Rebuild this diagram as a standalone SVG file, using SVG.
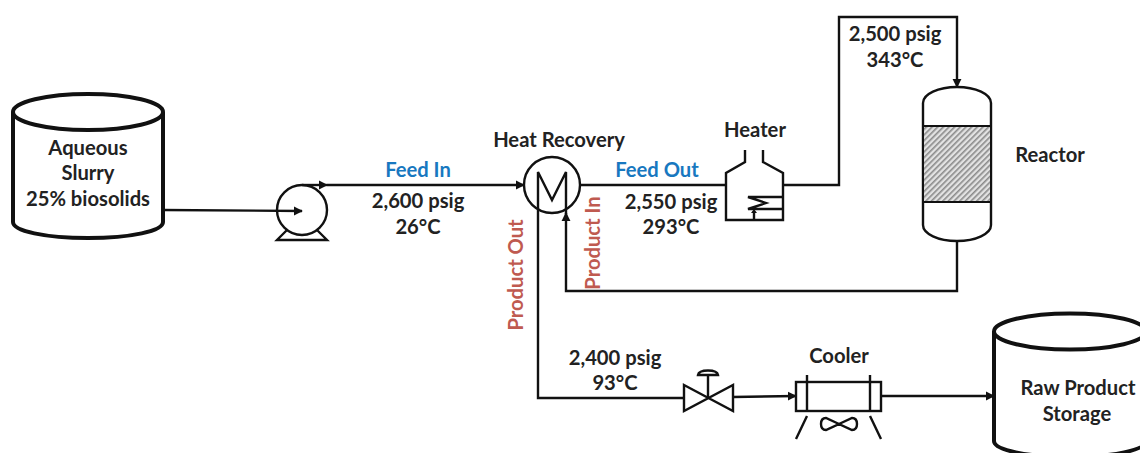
<svg xmlns="http://www.w3.org/2000/svg" width="1140" height="453" viewBox="0 0 1140 453">
<style>
.l{fill:none;stroke:#111;stroke-width:2.4;stroke-linejoin:miter}
.t{fill:none;stroke:#111;stroke-width:4}
text{font-family:"Lato","Liberation Sans",sans-serif;font-size:20.2px;font-weight:700;fill:#222;text-anchor:middle}
.b{fill:#1878c0}
.r{fill:#bf5a50}
</style>
<defs>
<marker id="a" viewBox="0 0 10 10" refX="9" refY="5" markerWidth="9" markerHeight="10" markerUnits="userSpaceOnUse" orient="auto"><path d="M0 0L10 5L0 10Z" fill="#111"/></marker>
<pattern id="h" width="4" height="4" patternUnits="userSpaceOnUse" patternTransform="rotate(-45)"><rect width="4" height="4" fill="#e2e2e2"/><rect width="4" height="1.6" fill="#8a8a8a"/></pattern>
</defs>
<rect width="1140" height="453" fill="#fff"/>
<g id="connectors">
<path class="l" d="M163 210L302 211" marker-end="url(#a)"/>
<path class="l" d="M302 185H327" marker-end="url(#a)"/>
<path class="l" d="M327 185H524" marker-end="url(#a)"/>
<path class="l" d="M580 185H726"/>
<path class="l" d="M783 185H839V17H957V87" marker-end="url(#a)"/>
<path class="l" d="M957 241V291H566V213" marker-end="url(#a)"/>
<path class="l" d="M538 212V398H684"/>
<path class="l" d="M733 397L796 396" marker-end="url(#a)"/>
<path class="l" d="M881 396H994" marker-end="url(#a)"/>
</g>
<g id="tank-slurry">
<path class="t" d="M13 112V222C13 231 45 238 88 238S163 231 163 222V112"/>
<ellipse class="t" cx="88" cy="112" rx="75" ry="18"/>
<text x="88" y="155">Aqueous</text>
<text x="88" y="180">Slurry</text>
<text x="88" y="206">25% biosolids</text>
</g>
<g id="pump">
<circle class="l" cx="302" cy="210" r="25"/>
<path class="l" d="M287 230L277 240H327L317 230"/>
</g>
<g id="heat-recovery">
<circle class="l" cx="552" cy="185" r="28"/>
<path class="l" d="M538 212V172L552 200L566 172V214"/>
<text x="559" y="147">Heat Recovery</text>
</g>
<g id="heater">
<path class="l" d="M745 150V162L726 173V220H783V173L763 162V150"/>
<path class="l" d="M783 197H748L766 203L748 209H783"/>
<path class="l" d="M754 220V211" stroke-width="1.5"/>
<path d="M751 213L754 209L757 213Z" fill="#111"/>
<text x="755" y="137">Heater</text>
</g>
<g id="reactor">
<path class="l" d="M923 103A34 16 0 0 1 991 103V225A34 16 0 0 1 923 225Z"/>
<rect x="923" y="126" width="68" height="76" fill="url(#h)" stroke="#111" stroke-width="2"/>
<text x="1050" y="162">Reactor</text>
</g>
<g id="valve">
<path class="l" d="M684 385L733 411V385L684 411Z"/>
<path class="l" d="M708 398V375"/>
<path d="M698 375C699 369 717 369 718 375Z" fill="#fff" stroke="#111" stroke-width="2.4"/>
</g>
<g id="cooler">
<rect class="l" x="796" y="382" width="85" height="29"/>
<path class="l" d="M807 375V411M870 375V411M807 416L796 439M870 416L881 439"/>
<path class="l" d="M839 424L826 418Q821 418 821 424T826 430ZL852 418Q857 418 857 424T852 430Z"/>
<text x="839" y="363">Cooler</text>
</g>
<g id="tank-storage">
<path class="t" d="M994 331V441C994 450 1027 457 1070 457S1146 450 1146 441V331"/>
<ellipse class="t" cx="1070" cy="331.500" rx="76" ry="18"/>
<text x="1078" y="395">Raw Product</text>
<text x="1077" y="421">Storage</text>
</g>
<g id="labels">
<text class="b" x="418" y="177">Feed In</text>
<text x="418" y="208">2,600 psig</text>
<text x="418" y="234">26°C</text>
<text class="b" x="657" y="177">Feed Out</text>
<text x="671" y="209">2,550 psig</text>
<text x="671" y="234">293°C</text>
<text x="895" y="41">2,500 psig</text>
<text x="895" y="67">343°C</text>
<text x="615" y="365">2,400 psig</text>
<text x="615" y="390">93°C</text>
<text class="r" transform="translate(523 275) rotate(-90)">Product Out</text>
<text class="r" transform="translate(600 243) rotate(-90)">Product In</text>
</g>
</svg>
